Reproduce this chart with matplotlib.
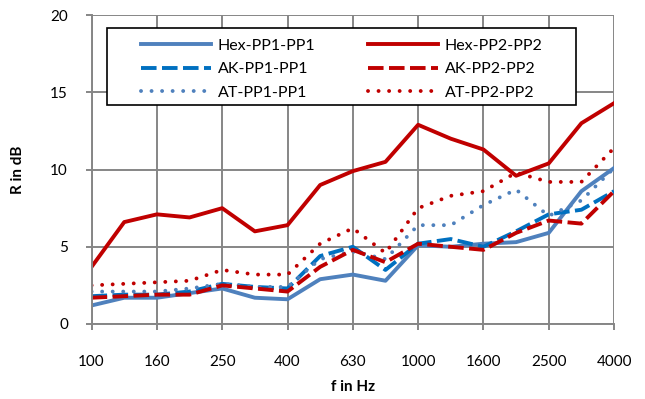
import numpy as np
import matplotlib.pyplot as plt
from matplotlib.patches import Rectangle

# third-octave band centre frequencies
freqs = ['100', '125', '160', '200', '250', '315', '400', '500', '630', '800',
         '1000', '1250', '1600', '2000', '2500', '3150', '4000']

# R in dB
hex_pp1 = [1.2, 1.7, 1.7, 2.0, 2.3, 1.7, 1.6, 2.9, 3.2, 2.8, 5.1, 5.0, 5.2, 5.3, 5.9, 8.6, 10.1]
hex_pp2 = [3.7, 6.6, 7.1, 6.9, 7.5, 6.0, 6.4, 9.0, 9.9, 10.5, 12.9, 12.0, 11.3, 9.6, 10.4, 13.0, 14.3]
ak_pp1 = [1.8, 1.9, 1.9, 2.1, 2.6, 2.4, 2.3, 4.4, 5.0, 3.5, 5.2, 5.5, 5.0, 6.0, 7.1, 7.4, 8.6]
ak_pp2 = [1.7, 1.8, 1.9, 1.9, 2.5, 2.3, 2.1, 3.7, 4.8, 4.0, 5.2, 5.0, 4.8, 5.9, 6.7, 6.5, 8.6]
at_pp1 = [2.1, 2.1, 2.1, 2.3, 2.6, 2.4, 2.4, 4.2, 4.7, 4.2, 6.4, 6.4, 7.7, 8.7, 7.0, 8.0, 10.1]
at_pp2 = [2.5, 2.6, 2.7, 2.8, 3.5, 3.2, 3.2, 5.2, 6.2, 4.6, 7.5, 8.3, 8.6, 9.8, 9.2, 9.2, 11.4]

plt.rcParams['font.family'] = ['Lato', 'DejaVu Sans']

grid_col = '#868686'
c_blue = '#4F81BD'
c_blue2 = '#0070C0'
c_red = '#C00000'

fig = plt.figure(figsize=(6.45, 3.99), dpi=100)
ax = fig.add_axes([0.142, 0.188, 0.81, 0.774])

x = np.arange(len(freqs))
lw = 2.8
dash = (4.0, 1.4)
dot = (0.01, 2.7)
ax.plot(x, hex_pp1, color=c_blue, lw=lw, label='Hex-PP1-PP1')
ax.plot(x, ak_pp1, color=c_blue2, lw=lw, dashes=dash, label='AK-PP1-PP1')
ax.plot(x, at_pp1, color=c_blue, lw=lw, dashes=dot, dash_capstyle='round', label='AT-PP1-PP1')
ax.plot(x, hex_pp2, color=c_red, lw=lw, label='Hex-PP2-PP2')
ax.plot(x, ak_pp2, color=c_red, lw=lw, dashes=dash, label='AK-PP2-PP2')
ax.plot(x, at_pp2, color=c_red, lw=lw, dashes=dot, dash_capstyle='round', label='AT-PP2-PP2')

ax.set_xlim(0, len(freqs) - 1)
ax.set_ylim(0, 20)
ax.set_xticks(x[::2])
ax.set_xticklabels(freqs[::2])
ax.set_yticks([0, 5, 10, 15, 20])

ax.grid(True, color=grid_col, lw=1.4)
ax.set_axisbelow(True)
for s in ['top', 'right']:
    ax.spines[s].set_visible(False)
for s in ['left', 'bottom']:
    ax.spines[s].set_color(grid_col)
    ax.spines[s].set_linewidth(1.4)
ax.tick_params(axis='x', direction='out', length=4, width=1.4, color=grid_col,
               pad=18, labelsize=11)
ax.tick_params(axis='y', direction='out', length=4, width=1.4, color=grid_col,
               pad=13, labelsize=11)

ax.set_xlabel('f in Hz', fontsize=11, fontweight='bold', labelpad=8)
ax.set_ylabel('R in dB', fontsize=11, fontweight='bold', labelpad=18)

# legend box drawn separately (wide side padding like the original)
box = Rectangle((0.029, 0.709), 0.898, 0.249, transform=ax.transAxes,
                facecolor='white', edgecolor='black', lw=1.2, zorder=5)
ax.add_patch(box)
leg = ax.legend(ncol=2, loc='upper left', bbox_to_anchor=(0.079, 0.95),
                fontsize=11.5, frameon=False, handlelength=4.4,
                columnspacing=3.3, labelspacing=0.58, borderpad=0,
                handletextpad=0.4)
leg.set_zorder(6)

fig.savefig('out.png', dpi=100)
